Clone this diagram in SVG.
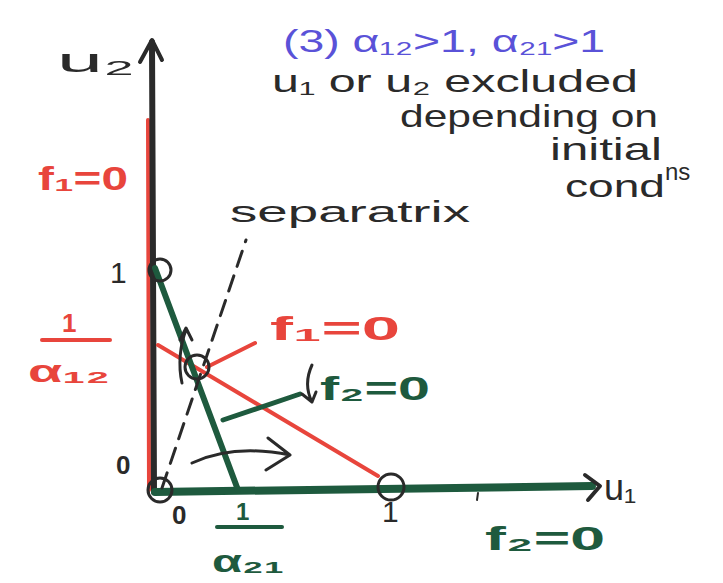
<svg xmlns="http://www.w3.org/2000/svg" width="723" height="583" viewBox="0 0 723 583">
<defs>
<style>
.k{stroke:#2a2a2a;fill:none;stroke-linecap:round;stroke-linejoin:round}
.r{stroke:#e8453c;fill:none;stroke-linecap:round}
.g{stroke:#1e5a3e;fill:none;stroke-linecap:round}
.t{font-family:"Liberation Sans","DejaVu Sans",sans-serif}
.tk{fill:#2a2a2a}.tr{fill:#e8453c;font-weight:bold}.tg{fill:#1e5a3e;font-weight:bold}.tb{fill:#5a52d8}
</style>
</defs>
<rect width="723" height="583" fill="#fff"/>
<g id="connectors">
<line class="r" x1="148" y1="120" x2="149" y2="490" stroke-width="4"/>
<line class="k" x1="152" y1="42" x2="154" y2="492" stroke-width="6"/>
<path class="k" d="M140 62 L152 40 L162 60" stroke-width="4"/>
<line class="g" x1="155" y1="492" x2="592" y2="486" stroke-width="8"/>
<path class="k" d="M585 475 L600 486 L588 500" stroke-width="4"/>
<line class="r" x1="158" y1="345" x2="378" y2="476" stroke-width="4"/>
<line class="r" x1="207" y1="367" x2="255" y2="343" stroke-width="4"/>
<line class="g" x1="155" y1="268" x2="238" y2="490" stroke-width="6"/>
<line class="g" x1="223" y1="420" x2="300" y2="394" stroke-width="5"/>
<line class="k" x1="162" y1="488" x2="246" y2="240" stroke-width="3" stroke-dasharray="16 10"/>
<path class="k" d="M312 365 C306 378 306 390 312 402 M302 394 L312 402 L316 392" stroke-width="3"/>
<path class="k" d="M182 383 C178 365 180 345 186 330 M180 340 L186 328 L192 340" stroke-width="3"/>
<path class="k" d="M192 463 C220 450 255 448 290 455 M268 438 L290 455 L266 470" stroke-width="3"/>
<line class="k" x1="478" y1="493" x2="477" y2="500" stroke-width="2"/>
</g>
<g id="node-u2eq"><circle class="k" cx="160" cy="270" r="11" stroke-width="3"/></g>
<g id="node-coexist"><circle class="k" cx="197" cy="367" r="12" stroke-width="3"/></g>
<g id="node-origin"><circle class="k" cx="160" cy="490" r="12" stroke-width="3"/></g>
<g id="node-u1eq"><circle class="k" cx="391" cy="487" r="13" stroke-width="3"/></g>
<g id="labels" class="t">
<text class="tb" x="283" y="52" font-size="32" textLength="322" lengthAdjust="spacingAndGlyphs">(3) α₁₂&gt;1, α₂₁&gt;1</text>
<text class="tk" x="272" y="92" font-size="32" textLength="366" lengthAdjust="spacingAndGlyphs">u₁ or u₂ excluded</text>
<text class="tk" x="400" y="127" font-size="32" textLength="258" lengthAdjust="spacingAndGlyphs">depending on</text>
<text class="tk" x="550" y="160" font-size="32" textLength="112" lengthAdjust="spacingAndGlyphs">initial</text>
<text class="tk" x="565" y="197" font-size="32" textLength="100" lengthAdjust="spacingAndGlyphs">cond</text>
<text class="tk" x="665" y="180" font-size="24">ns</text>
<text class="tk" x="57" y="72" font-size="34" textLength="78" lengthAdjust="spacingAndGlyphs">u₂</text>
<text class="tk" x="604" y="500" font-size="36">u₁</text>
<text class="tk" x="230" y="222" font-size="30" textLength="240" lengthAdjust="spacingAndGlyphs">separatrix</text>
<text class="tr" x="38" y="190" font-size="34" textLength="90" lengthAdjust="spacingAndGlyphs">f₁=0</text>
<text class="tr" x="270" y="340" font-size="34" textLength="130" lengthAdjust="spacingAndGlyphs">f₁=0</text>
<text class="tg" x="320" y="400" font-size="34" textLength="110" lengthAdjust="spacingAndGlyphs">f₂=0</text>
<text class="tg" x="485" y="550" font-size="34" textLength="120" lengthAdjust="spacingAndGlyphs">f₂=0</text>
<text class="tk" x="110" y="283" font-size="30">1</text>
<text class="tk" x="382" y="522" font-size="30">1</text>
<text class="tr" x="62" y="332" font-size="26">1</text>
<line class="r" x1="42" y1="340" x2="110" y2="340" stroke-width="4"/>
<text class="tr" x="28" y="382" font-size="32" textLength="82" lengthAdjust="spacingAndGlyphs">α₁₂</text>
<text class="tk" x="116" y="474" font-size="26" font-weight="bold">0</text>
<text class="tk" x="172" y="524" font-size="26" font-weight="bold">0</text>
<text class="tg" x="236" y="520" font-size="24">1</text>
<line class="g" x1="217" y1="527" x2="282" y2="527" stroke-width="4"/>
<text class="tg" x="212" y="572" font-size="32" textLength="72" lengthAdjust="spacingAndGlyphs">α₂₁</text>
</g>
</svg>
